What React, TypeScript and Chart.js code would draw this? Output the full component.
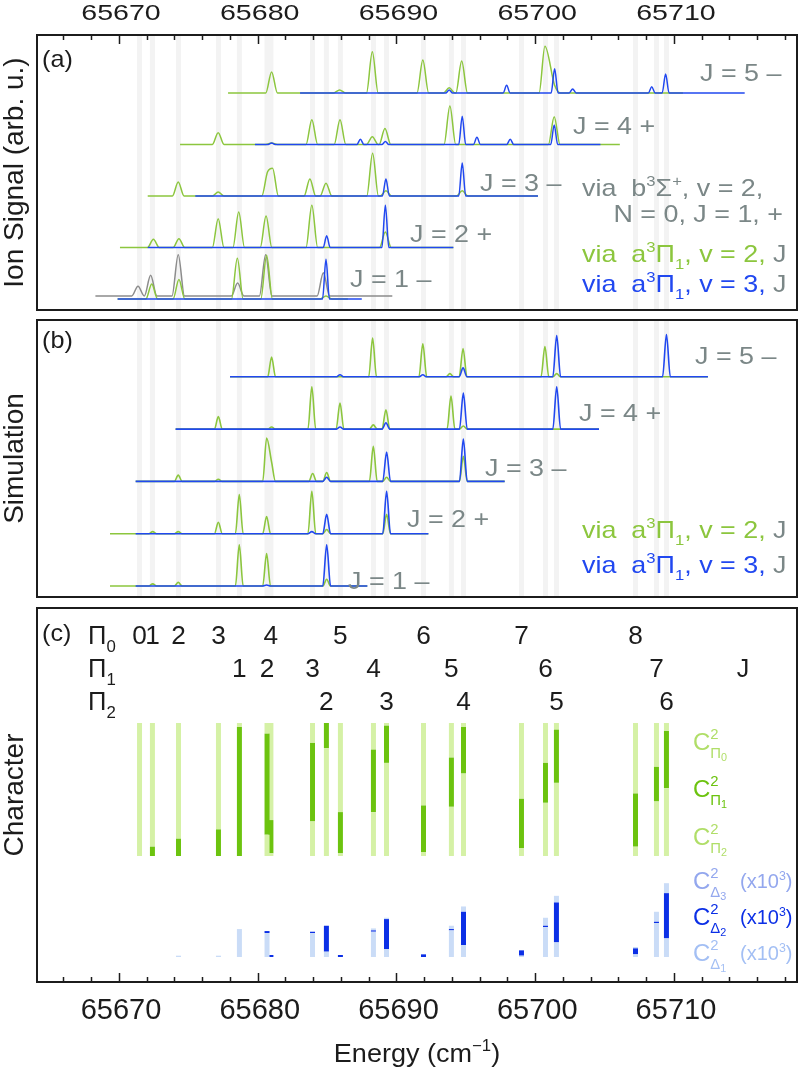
import React, { useEffect, useRef } from "react";
import { Chart, registerables } from "chart.js";

Chart.register(...registerables);

const FONT = '"Liberation Sans", Arial, Helvetica, sans-serif';

// ---------- energy axis (cm^-1) ----------
const E_MIN = 65664.09;
const E_MAX = 65718.87;
const MAJOR_TICKS = [65670, 65680, 65690, 65700, 65710];
const MINOR_STEP = 2;

// ---------- upper levels reached (panel c, stripes in a/b) ----------
const lineEnergy = [
  65671.48, 65672.41, 65674.29, 65677.17, 65678.68, 65680.67, 65680.95, 65683.95, 65684.95, 65685.96, 65688.34,
  65689.28, 65691.95, 65693.96, 65694.83, 65699.01, 65700.74, 65701.53, 65707.23, 65708.74, 65709.46,
];
const lineOmega = [0, 0, 0, 0, 1, 1, 0, 1, 2, 0, 1, 2, 0, 1, 2, 0, 1, 2, 0, 1, 2];
const lineJ = [0, 1, 2, 3, 1, 2, 4, 3, 2, 5, 4, 3, 6, 5, 4, 7, 6, 5, 8, 7, 6];
const c2Pi0 = [1.0, 0.93, 0.87, 0.8, 0.03, 0.08, 0.73, 0.15, 0.0, 0.67, 0.2, 0.02, 0.62, 0.26, 0.03, 0.57, 0.3, 0.05, 0.53, 0.33, 0.06];
const c2Pi1 = [0.0, 0.07, 0.13, 0.2, 0.97, 0.76, 0.25, 0.59, 0.19, 0.31, 0.47, 0.28, 0.35, 0.37, 0.35, 0.37, 0.3, 0.4, 0.4, 0.26, 0.43];
const c2Pi2 = [0.0, 0.0, 0.0, 0.0, 0.0, 0.16, 0.02, 0.26, 0.81, 0.02, 0.33, 0.7, 0.03, 0.37, 0.62, 0.06, 0.4, 0.55, 0.07, 0.41, 0.51];
// Delta admixtures, x10^3
const c2Delta1 = [0, 0, 0.01, 0.01, 0.21, 0.18, 0, 0.18, 0.04, 0, 0.19, 0.06, 0, 0.2, 0.09, 0.01, 0.225, 0.11, 0.02, 0.255, 0.14];
const c2Delta2 = [0, 0, 0, 0, 0, 0.015, 0.015, 0.01, 0.195, 0.015, 0.01, 0.225, 0.02, 0.01, 0.25, 0.04, 0.01, 0.3, 0.045, 0.01, 0.34];
const c2Delta3 = [0, 0, 0, 0, 0, 0, 0, 0, 0, 0, 0.015, 0.01, 0, 0.025, 0.04, 0, 0.06, 0.05, 0.01, 0.075, 0.075];

// ---------- panel (a): measured ion signal, J = 1..5 ----------
type Peak = [number, number];
const expGreenStart = [65669.9, 65670.07, 65672.07, 65674.4, 65677.86];
const expGreenEnd = [65686.5, 65694.1, 65700.2, 65706.1, 65710.65];
const expGreenPeaks: Peak[][] = [
  [[65672.36, 0.29], [65674.32, 0.38], [65678.53, 0.79], [65680.64, 0.85], [65684.92, 0.06]],
  [[65672.48, 0.16], [65674.32, 0.17], [65677.15, 0.56], [65678.63, 0.69], [65680.6, 0.61], [65683.9, 0.82], [65689.2, 0.3]],
  [[65674.27, 0.27], [65677.15, 0.08], [65680.71, 0.47], [65681.07, 0.54], [65683.76, 0.33], [65684.92, 0.25], [65688.28, 0.83], [65689.24, 0.1], [65694.74, 0.1]],
  [[65677.15, 0.23], [65681.0, 0.03], [65683.9, 0.48], [65685.93, 0.48], [65688.26, 0.15], [65689.17, 0.31], [65693.85, 0.75], [65701.37, 0.54]],
  [[65681.0, 0.41], [65685.9, 0.06], [65688.26, 0.8], [65691.9, 0.64], [65693.8, 0.1], [65694.7, 0.62], [65700.7, 0.91], [65701.4, 0.15]],
];
const expBlueStart = [65669.9, 65672.07, 65675.5, 65679.8, 65683.05];
const expBlueEnd = [65687.5, 65694.1, 65700.2, 65704.7, 65715.1];
const expBluePeaks: Peak[][] = [
  [[65684.92, 0.77]],
  [[65684.97, 0.23], [65689.2, 0.82]],
  [[65689.24, 0.33], [65694.74, 0.64]],
  [[65681.0, 0.03], [65687.4, 0.1], [65689.2, 0.06], [65694.74, 0.55], [65695.8, 0.14], [65698.2, 0.1], [65701.37, 0.38]],
  [[65693.8, 0.06], [65697.94, 0.15], [65701.4, 0.47], [65702.7, 0.08], [65708.4, 0.12], [65709.4, 0.37]],
];
// via b3Sigma+, v=2, N=0, J=1, +
const grayStart = 65668.3;
const grayEnd = 65689.7;
const grayOffset = 0.06;
const grayPeaks: Peak[] = [[65671.37, 0.19], [65672.28, 0.4], [65674.27, 0.8], [65678.55, 0.25], [65680.57, 0.8], [65684.73, 0.45]];

// ---------- panel (b): simulation, J = 1..5 ----------
const simGreenStart = [65669.35, 65669.35, 65671.2, 65674.08, 65678.0];
const simBlueStart = [65671.2, 65671.2, 65671.2, 65674.08, 65678.0];
const simEnd = [65687.9, 65692.3, 65697.8, 65704.6, 65712.45];
const simGreenPeaks: Peak[][] = [
  [[65672.43, 0.04], [65674.27, 0.07], [65678.67, 0.79], [65680.64, 0.62], [65684.97, 0.13]],
  [[65672.43, 0.04], [65674.27, 0.04], [65677.16, 0.22], [65678.67, 0.75], [65680.64, 0.33], [65683.9, 0.81], [65684.97, 0.08], [65689.29, 0.37]],
  [[65674.27, 0.12], [65677.16, 0.04], [65680.64, 0.83], [65681.0, 0.37], [65683.96, 0.15], [65684.97, 0.17], [65688.33, 0.67], [65689.29, 0.08], [65694.82, 0.48]],
  [[65677.16, 0.24], [65681.0, 0.04], [65683.9, 0.81], [65685.93, 0.5], [65688.33, 0.08], [65689.24, 0.37], [65693.93, 0.63], [65694.82, 0.06]],
  [[65681.0, 0.38], [65688.28, 0.74], [65691.9, 0.63], [65693.85, 0.06], [65694.8, 0.54], [65700.7, 0.58], [65701.55, 0.06]],
];
const simBluePeaks: Peak[][] = [
  [[65680.64, 0.02], [65684.97, 0.79]],
  [[65683.9, 0.04], [65684.97, 0.37], [65689.29, 0.81]],
  [[65684.97, 0.08], [65689.29, 0.56], [65694.82, 0.81]],
  [[65685.93, 0.04], [65689.24, 0.12], [65694.82, 0.69], [65701.55, 0.81]],
  [[65685.93, 0.04], [65691.9, 0.04], [65694.8, 0.17], [65701.55, 0.79], [65709.46, 0.81]],
];

const jLabels = ["J = 1 \u2013", "J = 2 +", "J = 3 \u2013", "J = 4 +", "J = 5 \u2013"];

// ---------- colours ----------
const GREEN = "#8cc63e";
const BLUE = "#2148f0";
const GRAY_TRACE = "#8c8c8c";
const LABEL_GRAY = "#7b8787";
const STRIPE = "#f3f3f3";
const PI_LIGHT = "#d5f1a6";
const PI_DARK = "#6cc30f";
const PI_LEGEND_LIGHT = "#b0de68";
const DELTA_LIGHT = "#cadcf7";
const DELTA_DARK = "#0b2fe6";
const DELTA3_TEXT = "#93a7ee";
const DELTA1_TEXT = "#a3bff4";
const INK = "#1c1c1c";

// ---------- layout (px) ----------
const W = 800;
const H = 1068;
const AREA = { left: 37, right: 797, top: 35, bottom: 982 };
const PANEL_A = { top: 35, bottom: 310 };
const PANEL_B = { top: 320, bottom: 597 };
const PANEL_C = { top: 608, bottom: 982 };
// each value axis: pixel row of its zero and pixels per unit
const AXES: Record<string, { zero: number; ppu: number }> = {
  ya: { zero: 299, ppu: 51.5 },
  yb: { zero: 586, ppu: 52.3 },
  yc: { zero: 856, ppu: 133 },
  yd: { zero: 957, ppu: 133 },
};
const axisRange = (id: string) => {
  const a = AXES[id];
  return { min: -(AREA.bottom - a.zero) / a.ppu, max: (a.zero - AREA.top) / a.ppu };
};
const panelBand = (id: string, p: { top: number; bottom: number }): [number, number] => {
  const a = AXES[id];
  return [(a.zero - p.bottom) / a.ppu, (a.zero - p.top) / a.ppu];
};

// baseline + peak apexes -> point list for a spectrum trace
function trace(start: number, end: number, peaks: Peak[], offset: number, hw: number) {
  const s = [...peaks].sort((a, b) => a[0] - b[0]);
  const pts: { x: number; y: number }[] = [{ x: start, y: offset }];
  s.forEach(([p, h], i) => {
    const prev = s[i - 1];
    const next = s[i + 1];
    if (!prev || p - prev[0] >= 2 * hw) pts.push({ x: p - hw, y: offset });
    pts.push({ x: p, y: offset + h });
    if (!next || next[0] - p >= 2 * hw) pts.push({ x: p + hw, y: offset });
  });
  pts.push({ x: end, y: offset });
  return pts.filter((q) => q.x >= start && q.x <= end);
}

function lineSet(data: { x: number; y: number }[], color: string, axis: string, order: number, width = 1.5) {
  return {
    type: "line" as const,
    data,
    yAxisID: axis,
    borderColor: color,
    borderWidth: width,
    pointRadius: 0,
    fill: false,
    cubicInterpolationMode: "monotone" as const,
    order,
  };
}

type Seg2 = { x: number; y: [number, number] };
function barSet(data: Seg2[], color: string, axis: string, order: number) {
  return {
    type: "bar" as const,
    // empty segments are left out so nothing is drawn for them
    data: data.filter((d) => d.y[1] - d.y[0] > 1e-6),
    yAxisID: axis,
    backgroundColor: color,
    borderWidth: 0,
    barThickness: 5,
    grouped: false,
    inflateAmount: 0,
    order,
  };
}

function stackSegs(parts: number[][]): Seg2[][] {
  // parts listed bottom to top; returns floating [from, to] per part and line
  return parts.map((_, k) =>
    lineEnergy.map((e, i) => {
      let lo = 0;
      for (let m = 0; m < k; m++) lo += parts[m][i];
      return { x: e, y: [lo, lo + parts[k][i]] as [number, number] };
    })
  );
}

function buildDatasets() {
  const ds: any[] = [];
  const bandA = panelBand("ya", PANEL_A);
  const bandB = panelBand("yb", PANEL_B);
  ds.push(barSet(lineEnergy.map((e) => ({ x: e, y: bandA })), STRIPE, "ya", 10));
  ds.push(barSet(lineEnergy.map((e) => ({ x: e, y: bandB })), STRIPE, "yb", 10));

  // (a) measured
  ds.push(lineSet(trace(grayStart, grayEnd, grayPeaks, grayOffset, 0.45), GRAY_TRACE, "ya", 4));
  for (let k = 0; k < 5; k++) {
    ds.push(lineSet(trace(expGreenStart[k], expGreenEnd[k], expGreenPeaks[k], k, 0.42), GREEN, "ya", 3));
    ds.push(lineSet(trace(expBlueStart[k], expBlueEnd[k], expBluePeaks[k], k, 0.25), BLUE, "ya", 2));
  }
  // (b) simulated
  for (let k = 0; k < 5; k++) {
    ds.push(lineSet(trace(simGreenStart[k], simEnd[k], simGreenPeaks[k], k, 0.28), GREEN, "yb", 3, 1.6));
    ds.push(lineSet(trace(simBlueStart[k], simEnd[k], simBluePeaks[k], k, 0.28), BLUE, "yb", 2, 1.6));
  }
  // (c) Pi character: Pi2 at the bottom, Pi1 in the middle, Pi0 on top
  const [pi2, pi1, pi0] = stackSegs([c2Pi2, c2Pi1, c2Pi0]);
  ds.push(barSet(pi2, PI_LIGHT, "yc", 1));
  ds.push(barSet(pi1, PI_DARK, "yc", 1));
  ds.push(barSet(pi0, PI_LIGHT, "yc", 1));
  // (c) Delta admixture (x10^3): Delta1, Delta2, Delta3 stacked
  const [d1, d2, d3] = stackSegs([c2Delta1, c2Delta2, c2Delta3]);
  ds.push(barSet(d1, DELTA_LIGHT, "yd", 1));
  ds.push(barSet(d2, DELTA_DARK, "yd", 1));
  ds.push(barSet(d3, DELTA_LIGHT, "yd", 1));
  return ds;
}

// ---------- text helpers ----------
type Seg = { t: string; c?: string; k?: number; dy?: number; adv?: boolean };
const sup = (t: string, c?: string): Seg => ({ t, c, k: 0.62, dy: -0.42 });
const sub = (t: string, c?: string): Seg => ({ t, c, k: 0.62, dy: 0.3 });

function rich(
  ctx: CanvasRenderingContext2D,
  segs: Seg[],
  x: number,
  y: number,
  size: number,
  color: string,
  opts: { sx?: number; align?: "left" | "right" | "center" } = {}
) {
  const sx = opts.sx ?? 1;
  ctx.save();
  ctx.translate(x, y);
  ctx.scale(sx, 1);
  ctx.textBaseline = "alphabetic";
  ctx.textAlign = "left";
  const widths = segs.map((g) => {
    ctx.font = `${size * (g.k ?? 1)}px ${FONT}`;
    return g.adv === false ? 0 : ctx.measureText(g.t).width;
  });
  const total = widths.reduce((a, b) => a + b, 0);
  let cx = opts.align === "right" ? -total : opts.align === "center" ? -total / 2 : 0;
  segs.forEach((g, i) => {
    ctx.font = `${size * (g.k ?? 1)}px ${FONT}`;
    ctx.fillStyle = g.c ?? color;
    ctx.fillText(g.t, cx, (g.dy ?? 0) * size);
    cx += widths[i];
  });
  ctx.restore();
}

function vtitle(ctx: CanvasRenderingContext2D, text: string, x: number, cy: number, size: number) {
  ctx.save();
  ctx.translate(x, cy);
  ctx.rotate(-Math.PI / 2);
  ctx.font = `${size}px ${FONT}`;
  ctx.fillStyle = INK;
  ctx.textAlign = "center";
  ctx.textBaseline = "alphabetic";
  ctx.fillText(text, 0, 0);
  ctx.restore();
}

const decorPlugin = {
  id: "decor",
  afterDraw(chart: any) {
    const ctx: CanvasRenderingContext2D = chart.ctx;
    const xs = chart.scales.x;
    const px = (v: number) => xs.getPixelForValue(v);
    ctx.save();

    // frames
    ctx.strokeStyle = INK;
    ctx.lineWidth = 2;
    for (const p of [PANEL_A, PANEL_B, PANEL_C]) {
      ctx.strokeRect(AREA.left, p.top, AREA.right - AREA.left, p.bottom - p.top);
    }

    // inward ticks: top of (a), bottom of (c)
    ctx.lineWidth = 1.5;
    for (let v = MAJOR_TICKS[0] - 4; v <= E_MAX; v += MINOR_STEP) {
      if (v <= E_MIN) continue;
      const x = Math.round(px(v)) + 0.5;
      const len = MAJOR_TICKS.includes(v) ? 9 : 5;
      ctx.beginPath();
      ctx.moveTo(x, PANEL_A.top);
      ctx.lineTo(x, PANEL_A.top + len);
      ctx.moveTo(x, PANEL_C.bottom);
      ctx.lineTo(x, PANEL_C.bottom - len);
      ctx.stroke();
    }

    // tick labels
    for (const v of MAJOR_TICKS) {
      rich(ctx, [{ t: String(v) }], px(v) + 2, 20, 22, INK, { sx: 1.3, align: "center" });
      rich(ctx, [{ t: String(v) }], px(v) + 2, 1019, 29, INK, { align: "center" });
    }
    rich(ctx, [{ t: "Energy (cm" }, sup("\u22121"), { t: ")" }], (AREA.left + AREA.right) / 2, 1062, 26, INK, {
      sx: 1.04,
      align: "center",
    });

    // axis titles
    vtitle(ctx, "Ion Signal (arb. u.)", 23, (PANEL_A.top + PANEL_A.bottom) / 2, 28);
    vtitle(ctx, "Simulation", 23, (PANEL_B.top + PANEL_B.bottom) / 2, 28);
    vtitle(ctx, "Character", 23, (PANEL_C.top + PANEL_C.bottom) / 2, 28);

    // panel tags
    rich(ctx, [{ t: "(a)" }], 42, 67, 24, INK, { sx: 1.05 });
    rich(ctx, [{ t: "(b)" }], 42, 348, 24, INK, { sx: 1.05 });
    rich(ctx, [{ t: "(c)" }], 42, 641, 24, INK, { sx: 1.05 });

    // J labels
    const jPosA = [[350, 287], [410, 242], [480, 191], [573, 134], [700, 81]];
    const jPosB = [[348, 589], [407, 527], [485, 476], [579, 421], [695, 364]];
    jLabels.forEach((t, i) => {
      rich(ctx, [{ t }], jPosA[i][0], jPosA[i][1], 24, LABEL_GRAY, { sx: 1.12 });
      rich(ctx, [{ t }], jPosB[i][0], jPosB[i][1], 24, LABEL_GRAY, { sx: 1.12 });
    });

    // legends (a)
    rich(ctx, [{ t: "via  b" }, sup("3"), { t: "\u03a3" }, sup("+"), { t: ", v = 2," }], 582, 196, 24, LABEL_GRAY, { sx: 1.12 });
    rich(ctx, [{ t: "N = 0, J = 1, +" }], 783, 222, 24, LABEL_GRAY, { sx: 1.12, align: "right" });
    const viaPi = (v: string, c: string): Seg[] =>
      [{ t: "via  a" }, sup("3"), { t: "\u03a0" }, sub("1"), { t: `, v = ${v}, ` }, { t: "J", c: LABEL_GRAY }].map((g) => ({
        ...g,
        c: g.c ?? c,
      }));
    rich(ctx, viaPi("2", GREEN), 582, 262, 24, GREEN, { sx: 1.12 });
    rich(ctx, viaPi("3", BLUE), 582, 292, 24, BLUE, { sx: 1.12 });
    // legends (b)
    rich(ctx, viaPi("2", GREEN), 582, 538, 24, GREEN, { sx: 1.12 });
    rich(ctx, viaPi("3", BLUE), 582, 573, 24, BLUE, { sx: 1.12 });

    // level assignments in (c)
    const rows = [644, 677, 710];
    rows.forEach((y, o) => {
      rich(ctx, [{ t: "\u03a0" }, { t: String(o), k: 0.66, dy: 0.3 }], 88, y, 25, INK, { sx: 1.02 });
    });
    lineEnergy.forEach((e, i) => {
      rich(ctx, [{ t: String(lineJ[i]) }], px(e), rows[lineOmega[i]], 25, INK, { sx: 1.05, align: "center" });
    });
    rich(ctx, [{ t: "J" }], 743, rows[1], 25, INK, { align: "center" });

    // character legends
    const cSym = (g: string, o: string): Seg[] => [
      { t: "C" },
      { t: "2", k: 0.62, dy: -0.45, adv: false },
      { t: g, k: 0.62, dy: 0.34 },
      { t: o, k: 0.45, dy: 0.46 },
    ];
    rich(ctx, cSym("\u03a0", "0"), 693, 750, 24, PI_LEGEND_LIGHT);
    rich(ctx, cSym("\u03a0", "1"), 693, 797, 24, PI_DARK);
    rich(ctx, cSym("\u03a0", "2"), 693, 845, 24, PI_LEGEND_LIGHT);
    const x10 = (c: string): Seg[] => [{ t: "(x10", c }, { t: "3", k: 0.62, dy: -0.42, c }, { t: ")", c }];
    rich(ctx, cSym("\u0394", "3"), 693, 889, 24, DELTA3_TEXT);
    rich(ctx, x10(DELTA3_TEXT), 740, 888, 20, DELTA3_TEXT);
    rich(ctx, cSym("\u0394", "2"), 693, 925, 24, DELTA_DARK);
    rich(ctx, x10(DELTA_DARK), 740, 924, 20, DELTA_DARK);
    rich(ctx, cSym("\u0394", "1"), 693, 961, 24, DELTA1_TEXT);
    rich(ctx, x10(DELTA1_TEXT), 740, 960, 20, DELTA1_TEXT);

    ctx.restore();
  },
};

export default function App() {
  const canvasRef = useRef<HTMLCanvasElement>(null);

  useEffect(() => {
    if (!canvasRef.current) return;
    const scales: any = {
      x: { type: "linear", min: E_MIN, max: E_MAX, display: false, offset: false },
    };
    for (const id of Object.keys(AXES)) {
      scales[id] = { type: "linear", position: "left", display: false, ...axisRange(id) };
    }
    const chart = new Chart(canvasRef.current, {
      type: "line",
      data: { datasets: buildDatasets() },
      options: {
        responsive: false,
        animation: false,
        devicePixelRatio: 1,
        events: [],
        layout: {
          padding: { left: AREA.left, right: W - AREA.right, top: AREA.top, bottom: H - AREA.bottom },
        },
        plugins: { legend: { display: false }, tooltip: { enabled: false } },
        scales,
      },
      plugins: [decorPlugin],
    } as any);
    return () => chart.destroy();
  }, []);

  return (
    <div style={{ position: "absolute", left: 0, top: 0, width: W, height: H, background: "#ffffff" }}>
      <canvas ref={canvasRef} width={W} height={H} style={{ display: "block", width: W, height: H }} />
    </div>
  );
}
